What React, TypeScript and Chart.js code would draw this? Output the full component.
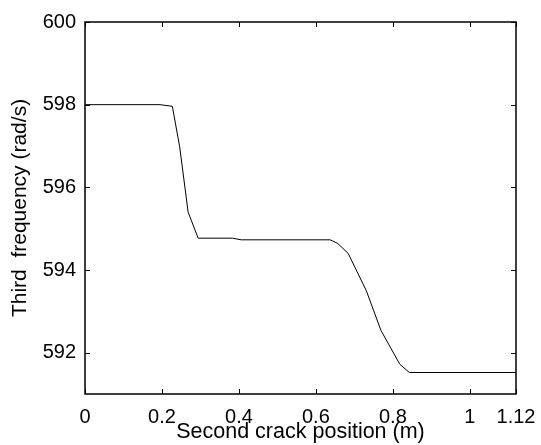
import React, { useEffect, useRef } from "react";
import { Chart, registerables } from "chart.js";

Chart.register(...registerables);

const positions = [0, 0.195, 0.227, 0.246, 0.268, 0.294, 0.383, 0.406, 0.637, 0.657, 0.684, 0.731, 0.769, 0.818, 0.843, 1.12];
const frequencies = [598.0, 598.0, 597.96, 596.98, 595.4, 594.77, 594.77, 594.73, 594.73, 594.64, 594.4, 593.5, 592.54, 591.72, 591.52, 591.52];
const xTicks = [0, 0.2, 0.4, 0.6, 0.8, 1, 1.12];
const yTicks = [592, 594, 596, 598, 600];

const FONT = "'Liberation Sans', Arial, sans-serif";

const frameTicks = {
  id: "frameTicks",
  afterDraw(chart: any) {
    const { ctx, chartArea } = chart;
    const { left, right, top, bottom } = chartArea;
    const xs = chart.scales.x;
    const ys = chart.scales.y;
    const len = 5;
    ctx.save();
    ctx.strokeStyle = "#000";
    ctx.lineWidth = 1;
    ctx.beginPath();
    for (const t of xTicks) {
      const px = Math.round(xs.getPixelForValue(t)) + 0.5;
      ctx.moveTo(px, bottom);
      ctx.lineTo(px, bottom - len);
      ctx.moveTo(px, top);
      ctx.lineTo(px, top + len);
    }
    for (const t of yTicks) {
      const py = Math.round(ys.getPixelForValue(t)) + 0.5;
      ctx.moveTo(left, py);
      ctx.lineTo(left + len, py);
      ctx.moveTo(right, py);
      ctx.lineTo(right - len, py);
    }
    ctx.stroke();
    ctx.lineWidth = 1.5;
    ctx.strokeRect(left, top, right - left, bottom - top);
    ctx.restore();
  },
};

const noPad = (s: any) => {
  s.paddingLeft = 0;
  s.paddingRight = 0;
  s.paddingTop = 0;
  s.paddingBottom = 0;
};

export default function App() {
  const ref = useRef<HTMLCanvasElement | null>(null);
  useEffect(() => {
    document.body.style.margin = "0";
    const chart = new Chart(ref.current!, {
      type: "line",
      data: {
        datasets: [
          {
            data: positions.map((x, i) => ({ x, y: frequencies[i] })),
            borderColor: "#000",
            borderWidth: 1,
            pointRadius: 0,
            tension: 0,
            fill: false,
          },
        ],
      },
      options: {
        animation: false,
        responsive: false,
        maintainAspectRatio: false,
        layout: { padding: { top: 22, right: 25, left: 0, bottom: 0 } },
        plugins: { legend: { display: false }, tooltip: { enabled: false } },
        scales: {
          x: {
            type: "linear",
            min: 0,
            max: 1.12,
            afterBuildTicks: (s: any) => {
              s.ticks = xTicks.map((v) => ({ value: v }));
            },
            afterFit: (s: any) => {
              s.height = 51;
              noPad(s);
            },
            grid: { display: false, drawTicks: false },
            border: { display: false },
            ticks: {
              color: "#000",
              font: { family: FONT, size: 20 },
              padding: 11,
              maxRotation: 0,
              autoSkip: false,
              callback: (v: any) => String(Number(v)),
            },
            title: {
              display: true,
              text: "Second crack position (m)",
              color: "#000",
              font: { family: FONT, size: 21.5 },
              padding: { top: -6, bottom: 0 },
            },
          },
          y: {
            type: "linear",
            min: 591,
            max: 600,
            afterBuildTicks: (s: any) => {
              s.ticks = yTicks.map((v) => ({ value: v }));
            },
            afterFit: (s: any) => {
              s.width = 85;
              noPad(s);
            },
            grid: { display: false, drawTicks: false },
            border: { display: false },
            ticks: {
              color: "#000",
              font: { family: FONT, size: 20 },
              padding: 9,
              autoSkip: false,
              callback: (v: any) => String(v),
            },
            title: {
              display: true,
              text: "Third  frequency (rad/s)",
              color: "#000",
              font: { family: FONT, size: 21 },
              padding: { top: 8, bottom: 0 },
            },
          },
        },
      },
      plugins: [frameTicks],
    });
    return () => chart.destroy();
  }, []);
  return (
    <div style={{ width: 541, height: 445, background: "#fff" }}>
      <canvas ref={ref} width={541} height={445} style={{ width: 541, height: 445, display: "block" }} />
    </div>
  );
}
